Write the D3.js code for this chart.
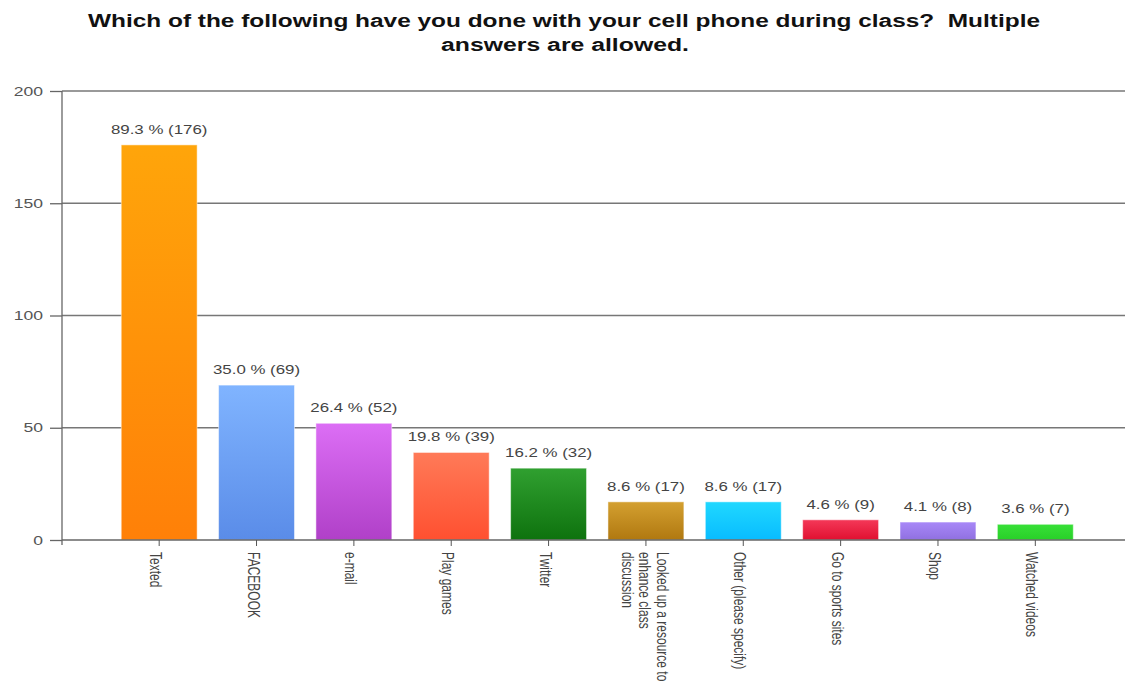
<!DOCTYPE html>
<html>
<head>
<meta charset="utf-8">
<script src="https://cdn.jsdelivr.net/npm/d3@7"></script>
<style>
  body { margin: 0; background: #fff; }
  svg { display: block; font-family: "Liberation Sans", Arial, sans-serif; }
</style>
</head>
<body>
<script>
// chart data
const categories = ["Texted", "FACEBOOK", "e-mail", "Play games", "Twitter",
  "Looked up a resource to enhance class discussion", "Other (please specify)",
  "Go to sports sites", "Shop", "Watched videos"];
const counts = [176, 69, 52, 39, 32, 17, 17, 9, 8, 7];
const percents = ["89.3", "35.0", "26.4", "19.8", "16.2", "8.6", "8.6", "4.6", "4.1", "3.6"];
const yTicks = [0, 50, 100, 150, 200];
const topColors = ["#ffa50a", "#80b4ff", "#dc6ef5", "#ff7a58", "#30a030", "#d4a030", "#20d8ff", "#f43858", "#a888f8", "#38e038"];
const bottomColors = ["#ff8008", "#5a8ce8", "#b040c8", "#ff5030", "#0e720e", "#b07810", "#08bcff", "#e01030", "#9070e0", "#28d028"];

const W = 1125, H = 688;
const plotLeft = 62, plotRight = 1125, plotTop = 91, plotBottom = 540;
const sx = 1.35; // the picture is stretched sideways, so is the text

const svg = d3.select("body").append("svg")
  .attr("width", W).attr("height", H);

// title
const title = svg.append("text")
  .attr("font-weight", "bold")
  .attr("font-size", 18)
  .attr("fill", "#111")
  .style("white-space", "pre");
title.append("tspan").attr("x", 88).attr("y", 27)
  .attr("textLength", 952).attr("lengthAdjust", "spacingAndGlyphs")
  .text("Which of the following have you done with your cell phone during class?  Multiple");
title.append("tspan").attr("x", 441).attr("y", 51)
  .attr("textLength", 248).attr("lengthAdjust", "spacingAndGlyphs")
  .text("answers are allowed.");

const x = d3.scaleBand()
  .domain(categories)
  .range([110.5, 1084])
  .paddingInner(0.22)
  .paddingOuter(0.11);

const y = d3.scaleLinear()
  .domain([0, 200])
  .range([plotBottom, plotTop]);

// gradients
const defs = svg.append("defs");
categories.forEach((c, i) => {
  const g = defs.append("linearGradient")
    .attr("id", "grad" + i)
    .attr("x1", 0).attr("y1", 0).attr("x2", 0).attr("y2", 1);
  g.append("stop").attr("offset", "0%").attr("stop-color", topColors[i]);
  g.append("stop").attr("offset", "100%").attr("stop-color", bottomColors[i]);
});

// gridlines
svg.append("g")
  .selectAll("line")
  .data(yTicks.filter(d => d > 0))
  .enter().append("line")
  .attr("x1", plotLeft).attr("x2", plotRight)
  .attr("y1", d => y(d)).attr("y2", d => y(d))
  .attr("stroke", "#777").attr("stroke-width", 1.3);

// y axis
const yAxis = svg.append("g")
  .attr("transform", `translate(${plotLeft},0)`)
  .call(d3.axisLeft(y).tickValues(yTicks).tickSize(12).tickPadding(0));
yAxis.select(".domain").attr("stroke", "#666").attr("stroke-width", 1.3)
  .attr("d", `M0,${plotTop}V${plotBottom + 5}`);
yAxis.selectAll(".tick line").attr("stroke", "#666").attr("stroke-width", 1.3);
yAxis.selectAll(".tick text")
  .attr("x", null)
  .attr("transform", `translate(-19,0) scale(${sx},1)`)
  .attr("font-size", 13).attr("fill", "#555")
  .attr("font-family", "Liberation Sans, Arial, sans-serif");

// bars
svg.append("g")
  .selectAll("rect")
  .data(categories)
  .enter().append("rect")
  .attr("x", d => x(d))
  .attr("y", (d, i) => y(counts[i]))
  .attr("width", x.bandwidth())
  .attr("height", (d, i) => y(0) - y(counts[i]))
  .attr("fill", (d, i) => `url(#grad${i})`)
  .attr("stroke", "rgba(255,255,255,0.5)")
  .attr("stroke-width", 1);

// value labels with white background
const labels = svg.append("g")
  .selectAll("g")
  .data(categories)
  .enter().append("g")
  .attr("transform", (d, i) => `translate(${x(d) + x.bandwidth() / 2},${y(counts[i]) - 11}) scale(${sx},1)`);
labels.append("text")
  .attr("text-anchor", "middle")
  .attr("font-size", 12.5)
  .attr("fill", "#444")
  .text((d, i) => `${percents[i]} % (${counts[i]})`);
labels.each(function () {
  const t = d3.select(this).select("text");
  const b = t.node().getBBox();
  d3.select(this).insert("rect", "text")
    .attr("x", b.x - 3).attr("y", b.y - 1)
    .attr("width", b.width + 6).attr("height", b.height + 2)
    .attr("fill", "#fff");
});

// x axis
const xAxis = svg.append("g")
  .attr("transform", `translate(0,${plotBottom})`)
  .call(d3.axisBottom(x).tickSize(6).tickFormat(""));
xAxis.select(".domain").attr("stroke", "#666").attr("stroke-width", 1.3)
  .attr("d", `M${plotLeft},0H${plotRight}`);
xAxis.selectAll(".tick line").attr("stroke", "#555");

// rotated category labels, wrapped
const wrap = {
  "Looked up a resource to enhance class discussion": ["Looked up a resource to", "enhance class", "discussion"]
};
const catLabels = svg.append("g")
  .selectAll("text")
  .data(categories)
  .enter().append("text")
  .attr("transform", d => {
    const n = (wrap[d] || [d]).length;
    const cx = x(d) + x.bandwidth() / 2 - 9 + (n - 1) * 10;
    return `translate(${cx},${plotBottom + 12}) scale(${sx},1) rotate(90)`;
  })
  .attr("font-size", 12)
  .attr("fill", "#444");
catLabels.each(function (d) {
  const lines = wrap[d] || [d];
  const t = d3.select(this);
  lines.forEach((l, j) => {
    t.append("tspan").attr("x", 0).attr("y", j * 13).text(l);
  });
});
</script>
</body>
</html>
